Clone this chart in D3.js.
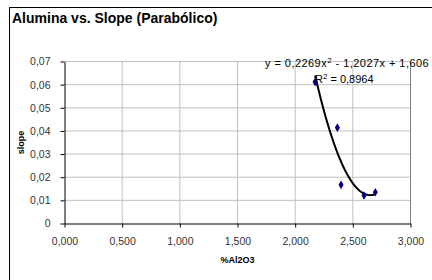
<!DOCTYPE html>
<html><head><meta charset="utf-8">
<script src="https://cdn.jsdelivr.net/npm/d3@7"></script>
<style>body{margin:0;background:#fff}svg{display:block}text{font-family:"Liberation Sans",Arial,sans-serif}</style>
</head><body><svg id="c" width="432" height="280"></svg>
<script>
const xValues = [2.173, 2.366, 2.398, 2.597, 2.695];
const yValues = [0.0611, 0.0414, 0.0167, 0.0121, 0.0135];
const trendCoefs = [0.2269, -1.2027, 1.606];
const xTicks = [0, 0.5, 1, 1.5, 2, 2.5, 3];
const yTicks = [0, 0.01, 0.02, 0.03, 0.04, 0.05, 0.06, 0.07];
const titleText = "Alumina vs. Slope (Parabólico)";
const xTitle = "%Al2O3";
const yTitle = "slope";
const eqParts = ["y = 0,2269x", "2", " - 1,2027x + 1,606"];
const r2Parts = ["R", "2", " = 0,8964"];

const svg = d3.select("#c");
svg.append("rect").attr("x",9.5).attr("y",7.5).attr("width",440).attr("height",290)
  .attr("fill","#fff").attr("stroke","#000").attr("stroke-width",1);
svg.append("text").attr("x",12).attr("y",23).attr("font-size",14).attr("font-weight","bold").text(titleText);

const x = d3.scaleLinear().domain([0,3]).range([64.5,410.5]);
const y = d3.scaleLinear().domain([0,0.07]).range([223.5,61.5]);
const fmtX = v => d3.format(".3f")(v).replace(".",",");
const fmtY = v => v===0 ? "0" : d3.format(".2f")(v).replace(".",",");

const g = svg.append("g");
g.selectAll(".hg").data(yTicks.slice(1)).join("line")
  .attr("x1",x(0)).attr("x2",x(3)).attr("y1",d=>y(d)).attr("y2",d=>y(d))
  .attr("stroke","#c0c0c0").attr("stroke-width",1);
g.selectAll(".vg").data(xTicks.slice(1)).join("line")
  .attr("y1",y(0)).attr("y2",y(0.07)).attr("x1",d=>x(d)).attr("x2",d=>x(d))
  .attr("stroke",d=>d===3?"#808080":"#c0c0c0").attr("stroke-width",1);

const xa = svg.append("g").attr("transform",`translate(0,${y(0)})`)
  .call(d3.axisBottom(x).tickValues(xTicks).tickFormat(fmtX).tickSize(4).tickSizeOuter(0).tickPadding(10));
const ya = svg.append("g").attr("transform",`translate(${x(0)},0)`)
  .call(d3.axisLeft(y).tickValues(yTicks).tickFormat(fmtY).tickSize(4).tickSizeOuter(0).tickPadding(10));
[xa,ya].forEach(a=>{
  a.select(".domain").attr("stroke","#000");
  a.selectAll(".tick line").attr("stroke","#000");
  a.selectAll("text").attr("font-size",10.5).attr("fill","#333").attr("font-family","Liberation Sans,Arial,sans-serif");
});

svg.append("text").attr("x",(x(0)+x(3))/2).attr("y",263).attr("text-anchor","middle")
  .attr("font-size",9).attr("font-weight","bold").text(xTitle);
svg.append("text").attr("transform",`translate(24,${(y(0)+y(0.07))/2}) rotate(-90)`).attr("text-anchor","middle")
  .attr("font-size",9).attr("font-weight","bold").text(yTitle);

// trendline
const xmin = d3.min(xValues), xmax = d3.max(xValues);
const f = v => trendCoefs[0]*v*v + trendCoefs[1]*v + trendCoefs[2];
const xs = d3.range(0,61).map(i => xmin + (xmax-xmin)*i/60);
svg.append("path").datum(xs)
  .attr("d", d3.line().x(d=>x(d)).y(d=>y(f(d))))
  .attr("fill","none").attr("stroke","#000").attr("stroke-width",2);

// points
svg.selectAll(".pt").data(xValues.map((v,i)=>[v,yValues[i]])).join("path")
  .attr("transform",d=>`translate(${x(d[0])},${y(d[1])})`)
  .attr("d", d3.symbol(d3.symbolDiamond, 22)())
  .attr("fill","#000080");

function supText(parts, xx, yy, ls){
  const t = svg.append("text").attr("x",xx).attr("y",yy).attr("font-size",11).attr("fill","#000")
    .attr("letter-spacing", ls);
  t.append("tspan").text(parts[0]);
  t.append("tspan").attr("dy",-4).attr("font-size",8).text(parts[1]);
  t.append("tspan").attr("dy",4).text(parts[2]);
}
supText(eqParts, 265, 67, 0.45);
supText(r2Parts, 315, 83, 0);
</script></body></html>
